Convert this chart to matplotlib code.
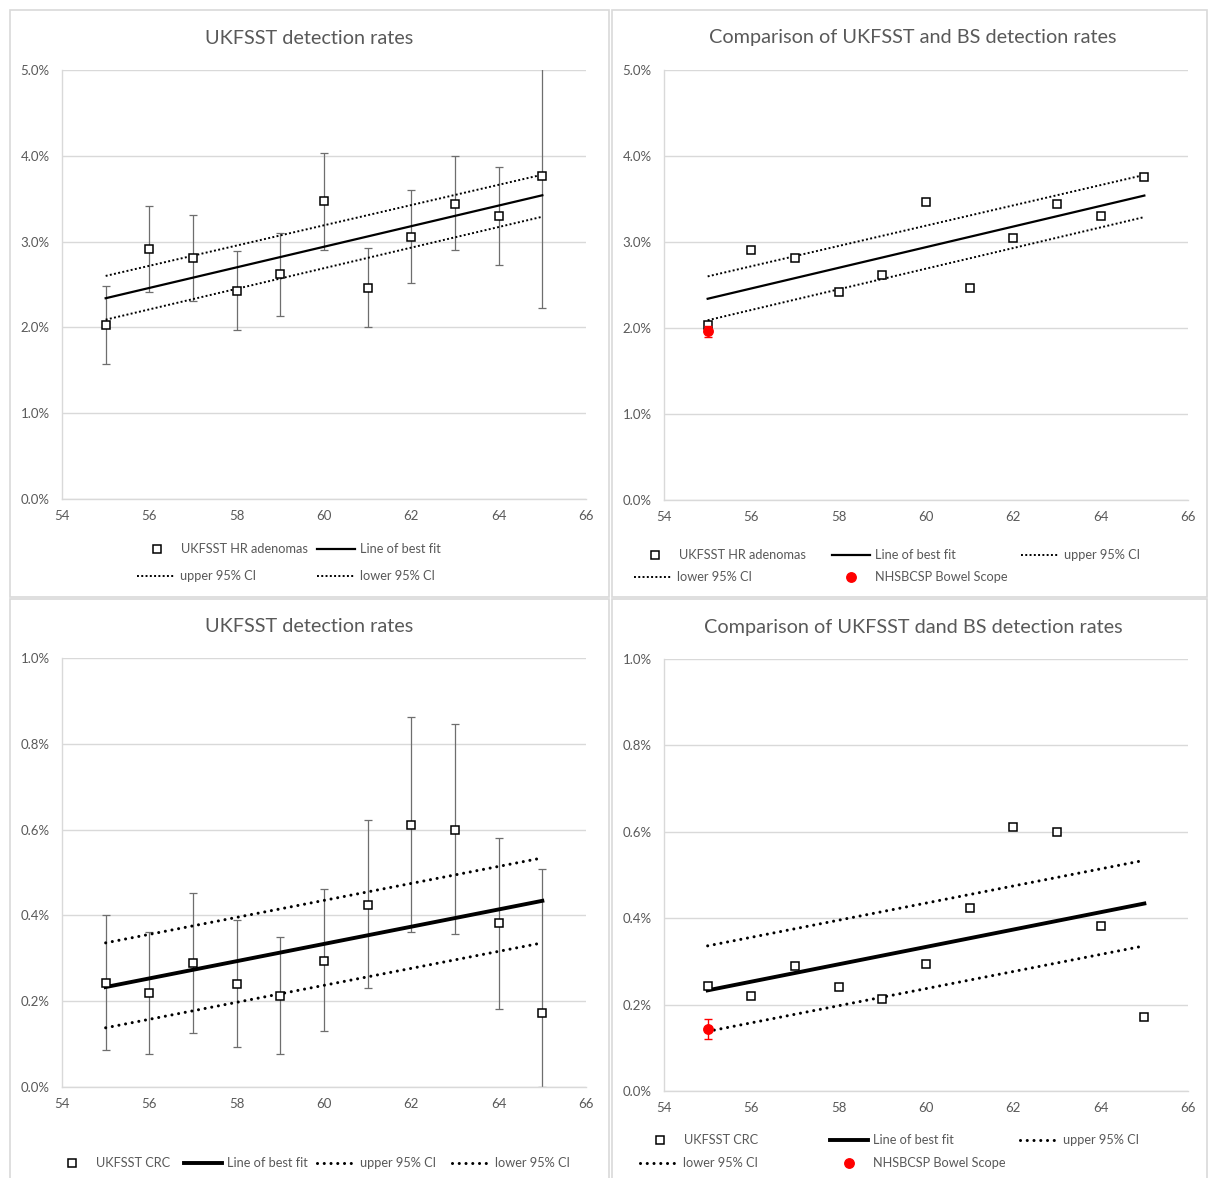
import matplotlib
matplotlib.use("Agg")
import matplotlib.pyplot as plt
from matplotlib.lines import Line2D
from matplotlib.patches import Rectangle
from matplotlib.ticker import FuncFormatter, MultipleLocator

# figure size in pixels (dpi 100)
W, H = 1208, 1178
GREY = "#595959"
LIGHT = "#d9d9d9"

ages = [55, 56, 57, 58, 59, 60, 61, 62, 63, 64, 65]
fit_ages = [55, 65]

# UKFSST high-risk adenoma detection rate (%) with 95% CI
hr_rate = [2.03, 2.91, 2.81, 2.42, 2.62, 3.47, 2.46, 3.05, 3.44, 3.30, 3.76]
hr_lower = [1.57, 2.41, 2.31, 1.97, 2.13, 2.90, 2.00, 2.52, 2.90, 2.73, 2.23]
hr_upper = [2.48, 3.41, 3.31, 2.89, 3.10, 4.03, 2.93, 3.60, 4.00, 3.87, 5.50]
hr_fit = [2.34, 3.54]
hr_fit_upper = [2.60, 3.78]
hr_fit_lower = [2.09, 3.29]

# UKFSST colorectal cancer detection rate (%) with 95% CI
crc_rate = [0.242, 0.219, 0.289, 0.240, 0.212, 0.294, 0.424, 0.611, 0.599, 0.382, 0.172]
crc_lower = [0.086, 0.077, 0.126, 0.093, 0.077, 0.131, 0.231, 0.361, 0.357, 0.182, 0.0]
crc_upper = [0.401, 0.361, 0.452, 0.389, 0.350, 0.462, 0.622, 0.862, 0.846, 0.580, 0.508]
crc_fit = [0.233, 0.434]
crc_fit_upper = [0.336, 0.534]
crc_fit_lower = [0.138, 0.336]

# NHSBCSP Bowel Scope (age 55): rate, lower, upper
bs_age = [55]
bs_hr = [1.96]
bs_hr_ci = [1.89, 2.02]
bs_crc = [0.143]
bs_crc_ci = [0.120, 0.167]

titles = ["UKFSST detection rates",
          "Comparison of UKFSST and BS detection rates",
          "UKFSST detection rates",
          "Comparison of UKFSST dand BS detection rates"]

plt.rcParams["font.family"] = ["Lato", "DejaVu Sans"]


def px_axes(fig, left, top, right, bottom):
    return fig.add_axes([left / W, 1 - bottom / H, (right - left) / W, (bottom - top) / H])


def panel_border(fig, left, top, right, bottom):
    fig.patches.append(Rectangle((left / W, 1 - bottom / H), (right - left) / W, (bottom - top) / H,
                                 transform=fig.transFigure, fill=False, edgecolor=LIGHT, lw=1.2))


def style_axes(ax, ymax, ystep):
    ax.set_xlim(54, 66)
    ax.set_ylim(0, ymax)
    ax.xaxis.set_major_locator(MultipleLocator(2))
    ax.yaxis.set_major_locator(MultipleLocator(ystep))
    ax.yaxis.set_major_formatter(FuncFormatter(lambda v, p: f"{v:.1f}%"))
    ax.grid(axis="y", color=LIGHT, lw=1)
    ax.set_axisbelow(True)
    for s in ["top", "right"]:
        ax.spines[s].set_visible(False)
    for s in ["left", "bottom"]:
        ax.spines[s].set_color(LIGHT)
        ax.spines[s].set_linewidth(1)
    ax.tick_params(axis="both", length=0, labelsize=9.5, labelcolor=GREY)
    ax.tick_params(axis="y", pad=9)
    ax.tick_params(axis="x", pad=8)


def legend_item(fig, handle, label, x, y):
    leg = fig.legend([handle], [label], loc="center left", bbox_to_anchor=(x / W, 1 - y / H),
                     frameon=False, borderpad=0, borderaxespad=0, handlelength=3.0,
                     handletextpad=0.35, fontsize=9.2, labelcolor=GREY, numpoints=1)
    return leg


def draw_panel(fig, box, panel, title, rate, lower, upper, fit, fit_up, fit_lo, ymax, ystep,
               heavy, errors, bs=None, bs_ci=None):
    ax = px_axes(fig, *box)
    style_axes(ax, ymax, ystep)

    if heavy:
        fit_kw = dict(color="black", lw=2.8)
        ci_kw = dict(color="black", lw=2.2, ls=(0, (0.01, 2.2)), dash_capstyle="round")
    else:
        fit_kw = dict(color="black", lw=1.6)
        ci_kw = dict(color="black", lw=1.4, ls=(0, (1, 1.2)))

    if errors:
        yerr = [[r - l for r, l in zip(rate, lower)], [u - r for r, u in zip(rate, upper)]]
        ax.errorbar(ages, rate, yerr=yerr, fmt="none", ecolor="#6e6e6e", elinewidth=0.9,
                    capsize=2.8, capthick=0.9, zorder=2)

    ax.plot(fit_ages, fit, zorder=3, **fit_kw)
    ax.plot(fit_ages, fit_up, zorder=3, **ci_kw)
    ax.plot(fit_ages, fit_lo, zorder=3, **ci_kw)
    sq_kw = dict(ls="none", marker="s", ms=5.6, mfc="white", mec="black", mew=1.1)
    ax.plot(ages, rate, zorder=4, **sq_kw)

    if bs is not None:
        bs_err = [[bs[0] - bs_ci[0]], [bs_ci[1] - bs[0]]]
        ax.errorbar(bs_age, bs, yerr=bs_err, fmt="o", color="red", ms=6.8, ecolor="red",
                    elinewidth=1, capsize=3, capthick=1, zorder=5)

    # title centred over the whole panel, not only the plot area
    fig.text((panel[0] + panel[1]) / 2 / W, 1 - (box[1] - 32) / H, title, ha="center",
             va="center", fontsize=14.3, color=GREY)

    handles = {
        "sq": Line2D([], [], **sq_kw),
        "fit": Line2D([], [], **fit_kw),
        "ci": Line2D([], [], **ci_kw),
        "bs": Line2D([], [], ls="none", marker="o", ms=6.8, color="red"),
    }
    return ax, handles


fig = plt.figure(figsize=(W / 100, H / 100), dpi=100)

panel_border(fig, 10, 10, 609, 597)
panel_border(fig, 612, 10, 1207, 597)
panel_border(fig, 10, 599, 609, 1185)
panel_border(fig, 612, 599, 1207, 1185)

# top left
ax, h = draw_panel(fig, (62, 70, 586, 499), (10, 609), titles[0], hr_rate, hr_lower, hr_upper,
                   hr_fit, hr_fit_upper, hr_fit_lower, 5, 1, False, True)
legend_item(fig, h["sq"], "UKFSST HR adenomas", 138, 549)
legend_item(fig, h["fit"], "Line of best fit", 317, 549)
legend_item(fig, h["ci"], "upper 95% CI", 137, 576)
legend_item(fig, h["ci"], "lower 95% CI", 317, 576)

# top right
ax, h = draw_panel(fig, (664, 70, 1188, 500), (612, 1214), titles[1], hr_rate, hr_lower, hr_upper,
                   hr_fit, hr_fit_upper, hr_fit_lower, 5, 1, False, False, bs_hr, bs_hr_ci)
legend_item(fig, h["sq"], "UKFSST HR adenomas", 636, 555)
legend_item(fig, h["fit"], "Line of best fit", 832, 555)
legend_item(fig, h["ci"], "upper 95% CI", 1021, 555)
legend_item(fig, h["ci"], "lower 95% CI", 634, 577)
legend_item(fig, h["bs"], "NHSBCSP Bowel Scope", 832, 577)

# bottom left
ax, h = draw_panel(fig, (62, 658, 586, 1087), (10, 609), titles[2], crc_rate, crc_lower, crc_upper,
                   crc_fit, crc_fit_upper, crc_fit_lower, 1, 0.2, True, True)
legend_item(fig, h["sq"], "UKFSST CRC", 53, 1163)
legend_item(fig, h["fit"], "Line of best fit", 184, 1163)
legend_item(fig, h["ci"], "upper 95% CI", 317, 1163)
legend_item(fig, h["ci"], "lower 95% CI", 452, 1163)

# bottom right
ax, h = draw_panel(fig, (664, 659, 1188, 1091), (612, 1214), titles[3], crc_rate, crc_lower, crc_upper,
                   crc_fit, crc_fit_upper, crc_fit_lower, 1, 0.2, True, False, bs_crc, bs_crc_ci)
legend_item(fig, h["sq"], "UKFSST CRC", 641, 1140)
legend_item(fig, h["fit"], "Line of best fit", 830, 1140)
legend_item(fig, h["ci"], "upper 95% CI", 1020, 1140)
legend_item(fig, h["ci"], "lower 95% CI", 640, 1163)
legend_item(fig, h["bs"], "NHSBCSP Bowel Scope", 830, 1163)

fig.savefig("out.png", dpi=100)
